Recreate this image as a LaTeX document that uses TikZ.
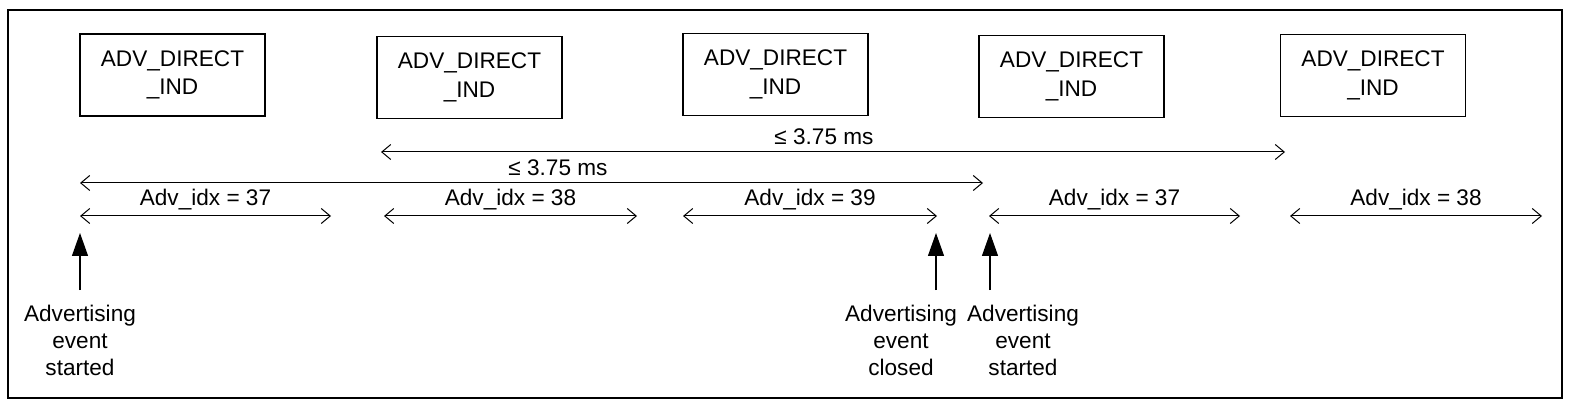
\documentclass[tikz,border=0pt]{standalone}
\usepackage{fontspec}
\setmainfont{Liberation Sans}
\usetikzlibrary{arrows.meta}
\begin{document}
\begin{tikzpicture}[x=1pt,y=-1pt,
  every node/.style={font=\fontsize{22.6}{27}\selectfont},
  pdu/.style={draw,line width=1.4pt,minimum width=185pt,minimum height=82pt,align=center,inner sep=0pt,
    font=\fontsize{22.6}{28.5}\selectfont},
  span/.style={line width=1pt,{Straight Barb[length=9pt,width=15pt]}-{Straight Barb[length=9pt,width=15pt]}},
  evt/.style={line width=1.2pt,-{Triangle[length=23pt,width=16pt]}},
  lab/.style={anchor=base,inner sep=0pt},
  evlab/.style={anchor=north,align=center,inner sep=0pt}]
\useasboundingbox (0,0) rectangle (1572,406);
\draw[line width=2.5pt] (8,10) rectangle (1562,398);
% PDU boxes
\node[pdu] (b1) at (172.5,75) {ADV\_DIRECT\\\_IND};
\node[pdu] (b2) at (469.5,77.5) {ADV\_DIRECT\\\_IND};
\node[pdu] (b3) at (775.5,74.5) {ADV\_DIRECT\\\_IND};
\node[pdu] (b4) at (1071.5,76.5) {ADV\_DIRECT\\\_IND};
\node[pdu] (b5) at (1373,75.5) {ADV\_DIRECT\\\_IND};
% 3.75 ms spans
\coordinate (t1a) at (381,152); \coordinate (t1b) at (1285,152);
\draw[span] (t1a) -- (t1b);
\node[lab] (t1l) at (824,145) {≤ 3.75 ms};
\coordinate (t2a) at (80,183); \coordinate (t2b) at (983,183);
\draw[span] (t2a) -- (t2b);
\node[lab] (t2l) at (558,176) {≤ 3.75 ms};
% Adv_idx spans
\coordinate (a1a) at (80,216); \coordinate (a1b) at (331,216);
\draw[span] (a1a) -- (a1b);
\node[lab] (a1l) at (205.5,206) {Adv\_idx = 37};
\coordinate (a2a) at (384,216); \coordinate (a2b) at (637,216);
\draw[span] (a2a) -- (a2b);
\node[lab] (a2l) at (510.5,206) {Adv\_idx = 38};
\coordinate (a3a) at (683,216); \coordinate (a3b) at (937,216);
\draw[span] (a3a) -- (a3b);
\node[lab] (a3l) at (810,206) {Adv\_idx = 39};
\coordinate (a4a) at (989,216); \coordinate (a4b) at (1240,216);
\draw[span] (a4a) -- (a4b);
\node[lab] (a4l) at (1114.5,206) {Adv\_idx = 37};
\coordinate (a5a) at (1290,216); \coordinate (a5b) at (1542,216);
\draw[span] (a5a) -- (a5b);
\node[lab] (a5l) at (1416,206) {Adv\_idx = 38};
% event arrows
\coordinate (e1a) at (80,290); \coordinate (e1b) at (80,233);
\draw[evt] (e1a) -- (e1b);
\node[evlab] (e1l) at (80,305) {Advertising\\event\\started};
\coordinate (e2a) at (936,290); \coordinate (e2b) at (936,233);
\draw[evt] (e2a) -- (e2b);
\node[evlab] (e2l) at (901,305) {Advertising\\event\\closed};
\coordinate (e3a) at (990,290); \coordinate (e3b) at (990,233);
\draw[evt] (e3a) -- (e3b);
\node[evlab] (e3l) at (1023,305) {Advertising\\event\\started};
\end{tikzpicture}
\end{document}
